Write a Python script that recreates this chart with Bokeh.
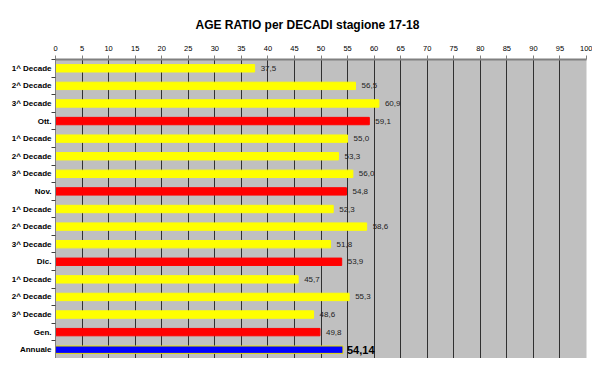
from bokeh.plotting import figure
from bokeh.models import ColumnDataSource, FixedTicker, Range1d, Title
from bokeh.core.properties import value
from bokeh.embed import file_html
from bokeh.resources import INLINE

title_text = "AGE RATIO per DECADI stagione 17-18"
categories = ["1^ Decade", "2^ Decade", "3^ Decade", "Ott.",
              "1^ Decade", "2^ Decade", "3^ Decade", "Nov.",
              "1^ Decade", "2^ Decade", "3^ Decade", "Dic.",
              "1^ Decade", "2^ Decade", "3^ Decade", "Gen.",
              "Annuale"]
values = [37.5, 56.5, 60.9, 59.1,
          55.0, 53.3, 56.0, 54.8,
          52.3, 58.6, 51.8, 53.9,
          45.7, 55.3, 48.6, 49.8,
          54.14]
kinds = ["decade", "decade", "decade", "month",
         "decade", "decade", "decade", "month",
         "decade", "decade", "decade", "month",
         "decade", "decade", "decade", "month",
         "year"]
x_ticks = list(range(0, 101, 5))

fill_map = {"decade": "#FFFF00", "month": "#FF0000", "year": "#0000FF"}
line_map = {"decade": "#FFFF00", "month": "#FF0000", "year": "#E8E000"}

n = len(categories)
ys = list(range(n))
labels = [f"{v:.1f}".replace(".", ",") for v in values]
labels[-1] = f"{values[-1]:.2f}".replace(".", ",")

src = ColumnDataSource(dict(
    y=ys[:-1], v=values[:-1], lab=labels[:-1],
    fill=[fill_map[k] for k in kinds[:-1]],
    line=[line_map[k] for k in kinds[:-1]],
))
src_year = ColumnDataSource(dict(
    y=ys[-1:], v=values[-1:], lab=labels[-1:],
    fill=[fill_map[k] for k in kinds[-1:]],
    line=[line_map[k] for k in kinds[-1:]],
))

font = "Liberation Sans"

p = figure(width=592, height=358, output_backend="svg", toolbar_location=None,
           x_range=Range1d(0, 100), y_range=Range1d(n - 0.5, -0.5),
           x_axis_location="above",
           min_border_left=55, min_border_right=6, min_border_top=59, min_border_bottom=0,
           background_fill_color="#C0C0C0", border_fill_color="white")
p.title = Title(text=title_text, align="left", offset=140, vertical_align="top",
                text_font=font, text_font_size="12px", text_font_style="bold",
                text_color="black", standoff=17, text_line_height=1.5)
p.outline_line_color = None

p.hbar(y="y", left=0, right="v", height=0.42, source=src,
       fill_color="fill", line_color="line", line_width=1)
p.hbar(y="y", left=0, right="v", height=0.42, source=src_year,
       fill_color="fill", line_color="line", line_width=1)

p.text(x="v", y="y", text="lab", source=src, x_offset=6, text_baseline="middle",
       text_font=value(font), text_font_size="8px", text_color="#222222")
p.text(x="v", y="y", text="lab", source=src_year, x_offset=4, text_baseline="middle",
       text_font=value(font), text_font_size="11px", text_font_style="bold",
       text_color="black")

xa = p.xaxis[0]
xa.ticker = FixedTicker(ticks=x_ticks)
xa.major_label_text_font = font
xa.major_label_text_font_size = "7.5px"
xa.major_label_text_color = "black"
xa.major_tick_in = 0
xa.major_tick_out = 4
xa.minor_tick_line_color = None
xa.axis_line_color = "#808080"
xa.axis_line_width = 2
xa.major_tick_line_color = "#808080"
xa.major_label_standoff = 5

ya = p.yaxis[0]
ya.ticker = FixedTicker(ticks=ys, minor_ticks=[i - 0.5 for i in range(n + 1)])
ya.major_label_overrides = {i: c for i, c in enumerate(categories)}
ya.major_label_text_font = font
ya.major_label_text_font_size = "8px"
ya.major_label_text_font_style = "bold"
ya.major_label_text_color = "black"
ya.major_tick_line_color = None
ya.major_tick_out = 0
ya.major_tick_in = 0
ya.minor_tick_in = 0
ya.minor_tick_out = 4
ya.minor_tick_line_color = "#404040"
ya.axis_line_color = "#808080"
ya.major_label_standoff = 0

p.xgrid.ticker = FixedTicker(ticks=x_ticks)
p.xgrid.grid_line_color = "#303030"
p.xgrid.grid_line_width = 1
p.ygrid.grid_line_color = None

open("out.html", "w").write(file_html(p, INLINE))
